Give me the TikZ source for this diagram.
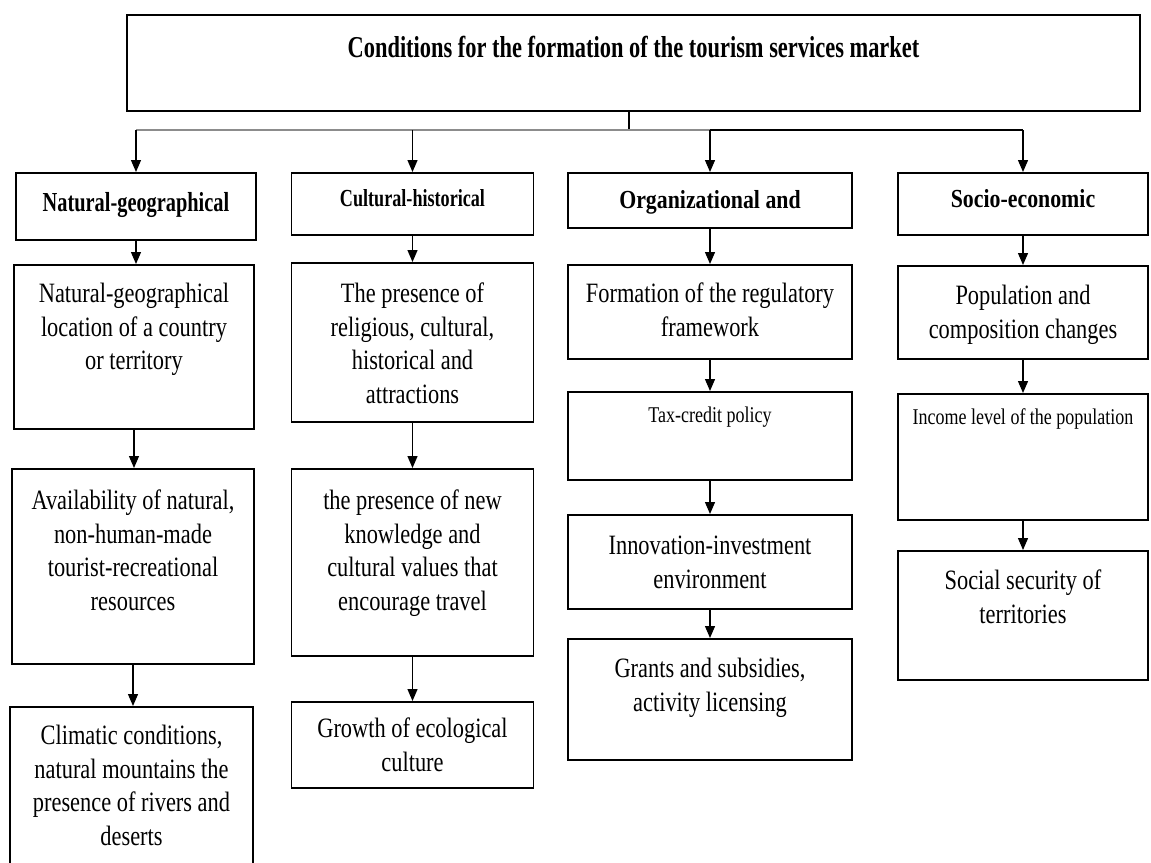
\documentclass[tikz,border=0pt]{standalone}
\usepackage{fontspec}
\setmainfont{Liberation Serif}
\newfontfamily\bodyfont[FakeStretch=0.8]{Liberation Serif}
\newfontfamily\condfont[FakeStretch=0.74]{Liberation Serif}
\newfontfamily\headfont[FakeStretch=0.84]{Liberation Serif}
\usepackage{tikz}
\usetikzlibrary{arrows.meta}
\tikzset{
  box/.style={draw=black, line width=1.6pt, anchor=north, align=flush center, inner sep=0pt,
    font=\bodyfont\fontsize{28}{33.5}\selectfont},
  smallbox/.style={box, font=\bodyfont\fontsize{22.5}{27}\selectfont},
  headbox/.style={box, font=\headfont\bfseries\fontsize{26}{30}\selectfont},
  condbox/.style={box, font=\condfont\bfseries\fontsize{27.5}{32}\selectfont},
  line/.style={draw=black, line width=1.3pt},
  busline/.style={draw=black!45, line width=1.5pt},
  arr/.style={draw=black, line width=1.3pt, -{Triangle[length=12pt,width=10pt]}}
}
\begin{document}
\begin{tikzpicture}[x=1pt,y=-1pt]
  \useasboundingbox (0,0) rectangle (1151,862);
  \fill[white] (0,0) rectangle (1151,862);
  \clip (0,0) rectangle (1151,862);

  % title
  \node[condbox, font=\condfont\bfseries\fontsize{30.3}{34}\selectfont, text width=1013pt,
        text height=43pt, text depth=53pt] (cond) at (633.5,14)
        {Conditions for the formation of the tourism services market};

  % headers
  \node[condbox, text width=240pt, text height=39pt, text depth=28pt] (hNat) at (136,172)
        {Natural-geographical};
  \node[condbox, font=\condfont\bfseries\fontsize{24.5}{29}\selectfont, text width=242pt,
        text height=34pt, text depth=28pt] (hCul) at (412.5,172) {Cultural-historical};
  \node[headbox, text width=284pt, text height=36pt, text depth=19pt] (hOrg) at (710,172)
        {Organizational and};
  \node[headbox, text width=250pt, text height=35pt, text depth=27pt] (hSoc) at (1023,172)
        {Socio-economic};

  % natural-geographical column
  \node[box, text width=240pt, text height=38pt, text depth=126pt] (nat1) at (134,264)
        {Natural-geographical\\location of a country\\or territory};
  \node[box, text width=242pt, text height=41pt, text depth=154pt] (nat2) at (133,468)
        {Availability of natural,\\non-human-made\\tourist-recreational\\resources};
  \node[box, text width=243pt, text height=38pt, text depth=136pt] (nat3) at (131.5,706)
        {Climatic conditions,\\natural mountains the\\presence of rivers and\\deserts};

  % cultural-historical column
  \node[box, text width=242pt, text height=40pt, text depth=119pt] (cul1) at (412.5,262)
        {The presence of\\religious, cultural,\\historical and\\attractions};
  \node[box, text width=242pt, text height=41pt, text depth=146pt] (cul2) at (412.5,468)
        {the presence of new\\knowledge and\\cultural values that\\encourage travel};
  \node[box, text width=242pt, text height=36pt, text depth=50pt] (cul3) at (412.5,701)
        {Growth of ecological\\culture};

  % organizational column
  \node[box, text width=284pt, text height=38pt, text depth=56pt] (org1) at (710,264)
        {Formation of the regulatory\\framework};
  \node[smallbox, text width=284pt, text height=31pt, text depth=57pt] (org2) at (710,391)
        {Tax-credit policy};
  \node[box, text width=284pt, text height=40pt, text depth=54pt] (org3) at (710,514)
        {Innovation-investment\\environment};
  \node[box, text width=284pt, text height=39pt, text depth=82pt] (org4) at (710,638)
        {Grants and subsidies,\\activity licensing};

  % socio-economic column
  \node[box, text width=250pt, text height=39pt, text depth=54pt] (soc1) at (1023,265)
        {Population and\\composition changes};
  \node[smallbox, text width=250pt, text height=31pt, text depth=95pt] (soc2) at (1023,393)
        {Income level of the population};
  \node[box, text width=250pt, text height=39pt, text depth=90pt] (soc3) at (1023,550)
        {Social security of\\territories};

  % bus from the title
  \coordinate (bus) at (629,130);
  \draw[line] (bus |- cond.south) -- (bus);
  \draw[busline] (bus -| hNat) -- (bus -| hOrg);
  \draw[line] (bus -| hOrg) -- (bus -| hSoc);
  \foreach \h in {hNat,hCul,hOrg,hSoc}
    \draw[arr] (bus -| \h) -- (\h);

  % arrows down each column
  \draw[arr] (hNat) -- (hNat |- nat1.north);
  \draw[arr] (nat1) -- (nat1 |- nat2.north);
  \draw[arr] (nat2) -- (nat2 |- nat3.north);
  \draw[arr] (hCul) -- (hCul |- cul1.north);
  \draw[arr] (cul1) -- (cul1 |- cul2.north);
  \draw[arr] (cul2) -- (cul2 |- cul3.north);
  \draw[arr] (hOrg) -- (hOrg |- org1.north);
  \draw[arr] (org1) -- (org1 |- org2.north);
  \draw[arr] (org2) -- (org2 |- org3.north);
  \draw[arr] (org3) -- (org3 |- org4.north);
  \draw[arr] (hSoc) -- (hSoc |- soc1.north);
  \draw[arr] (soc1) -- (soc1 |- soc2.north);
  \draw[arr] (soc2) -- (soc2 |- soc3.north);
\end{tikzpicture}
\end{document}
